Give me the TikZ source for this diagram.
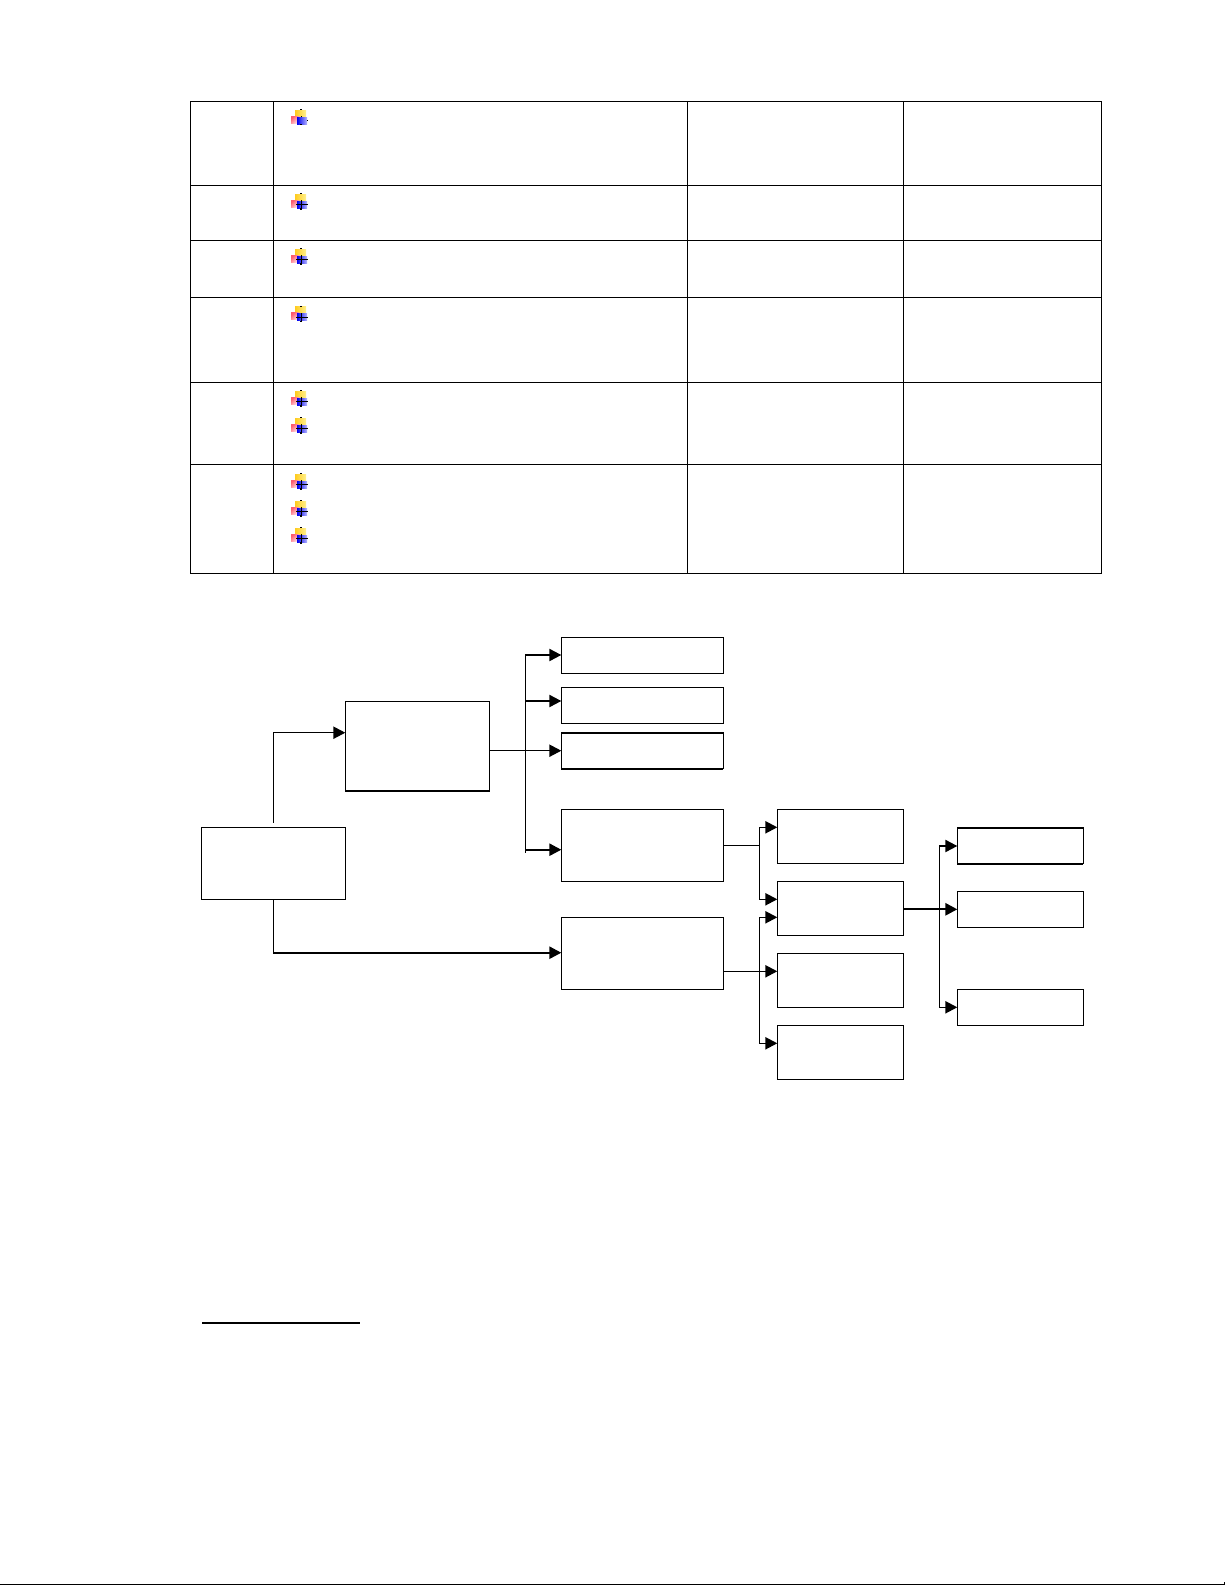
\documentclass[tikz,border=0pt]{standalone}
\usetikzlibrary{arrows.meta}
\definecolor{iconYa}{HTML}{FFCB1E}
\definecolor{iconYb}{HTML}{FFF08C}
\definecolor{iconRa}{HTML}{FF5A6C}
\definecolor{iconRb}{HTML}{FFE4E8}
\definecolor{iconBa}{HTML}{0000F0}
\definecolor{iconBb}{HTML}{B4B4FF}
\tikzset{
  boxnode/.style={draw=black,line width=0.95pt,fill=white,inner sep=0pt,outer sep=0pt},
  rule/.style={line width=0.95pt,black},
  edge/.style={line width=0.95pt,black},
  heavy/.style={line width=1.6pt,black},
  arr/.style={line width=1.05pt,black,-{Triangle[length=9pt,width=9.2pt]}},
  arrmid/.style={line width=1.4pt,black,-{Triangle[length=9pt,width=9.2pt]}},
  arrheavy/.style={line width=1.6pt,black,-{Triangle[length=9pt,width=9.2pt]}},
  iconbase/.pic={
    \shade[left color=iconYa,right color=iconYb] (295,0) rectangle (306,7);
    \shade[top color=iconRa,bottom color=iconRb,shading angle=45] (291,6) rectangle (299,13);
    \shade[left color=iconBa,right color=iconBb] (297,7) rectangle (307,14);
    \fill[black] (300,-1) rectangle (302,0);
  },
  icon/.pic={
    \pic {iconbase};
    \fill[black] (300.5,6) rectangle (301.5,7);
    \fill[black] (307,10) rectangle (308,11);
    \fill[black] (300,14) rectangle (302,15);
  },
  iconbar/.pic={
    \pic {iconbase};
    \fill[black] (300.5,6) rectangle (301.5,15);
    \fill[black] (295.5,10) rectangle (308,11);
    \fill[black] (300,14) rectangle (302,15.5);
  }
}
\newcommand{\bx}[5]{%
  \pgfmathsetmacro{\bxw}{(#4-#2)*0.75}%
  \pgfmathsetmacro{\bxh}{(#5-#3)*0.75}%
  \node[boxnode,minimum width=\bxw pt,minimum height=\bxh pt] (#1) at ({(#2+#4)/2},{(#3+#5)/2}) {};}
\begin{document}
\begin{tikzpicture}[x=0.75pt,y=-0.75pt]
\useasboundingbox (0,0) rectangle (1225,1585);
% table
\draw[rule] (190.5,101.3) rectangle (1101.7,573.3);
\foreach \yy in {185.3,240.3,297.3,382.3,464.3} \draw[rule] (190.5,\yy) -- (1101.7,\yy);
\foreach \xx in {273.3,687.3,903.3} \draw[rule] (\xx,101.3) -- (\xx,573.3);
% bullets
\pic at (0,110) {icon};
\foreach \yy in {194,249.3,306.7,391,418,474,501,528} \pic at (0,\yy) {iconbar};
% boxes
\bx{a}{201.3}{827.3}{345.7}{899.3}
\bx{b}{345.3}{701.3}{489.3}{791}
\bx{ca}{561.3}{637.3}{723.3}{673.3}
\bx{cb}{561.3}{687.3}{723.3}{723.3}
\bx{cc}{561.3}{733}{723.3}{768.7}
\bx{cd}{561.3}{809.3}{723.3}{881.3}
\bx{ce}{561.3}{917.3}{723.3}{989.3}
\bx{da}{777.3}{809.3}{903.3}{863.3}
\bx{db}{777.3}{881.3}{903.3}{935.3}
\bx{dc}{777.3}{953.3}{903.3}{1007.3}
\bx{dd}{777.3}{1025.3}{903.3}{1079.3}
\bx{ea}{957.3}{828}{1083.3}{863.7}
\bx{eb}{957.3}{891.3}{1083.3}{927.3}
\bx{ec}{957.3}{989.3}{1083.3}{1025.3}
% heavier edges
\draw[heavy] (b.south west) -- (b.south east);
\draw[heavy] (cc.north west) -- (cc.north east);
\draw[heavy] (cc.south west) -- (cc.south east);
\draw[heavy] (ea.north west) -- (ea.north east);
\draw[heavy] (ea.south west) -- (ea.south east);
% junction coordinates
\coordinate (astub) at (273.3,822.7);
\coordinate (abend) at (273.3,732.7);
\coordinate (aelbow) at (273.3,952.7);
\coordinate (tA1) at (525.3,655);
\coordinate (tA2) at (525.3,701);
\coordinate (tA3) at (525.3,750.7);
\coordinate (tA4) at (525.3,849.7);
\coordinate (tAend) at (525.3,853.3);
\coordinate (tB1) at (759.3,827.3);
\coordinate (tB2) at (759.3,845.3);
\coordinate (tB3) at (759.3,899.3);
\coordinate (tC1) at (759.3,917.3);
\coordinate (tC2) at (759.3,971.3);
\coordinate (tC3) at (759.3,1043.3);
\coordinate (tD1) at (939.3,846);
\coordinate (tD2) at (939.3,909.3);
\coordinate (tD3) at (939.3,1007.3);
\coordinate (pageend) at (1224.5,1584.3);
% connectors
\draw[edge] (astub) -- (abend);
\draw[arr] (abend) -- (abend -| b.west);
\draw[edge] (a.south -| aelbow) -- (aelbow);
\draw[arrmid] (aelbow) -- (aelbow -| ce.west);
\draw[edge] (tA3 -| b.east) -- (tA3);
\draw[edge] (tA1) -- (tAend);
\draw[arr] (tA1) -- (tA1 -| ca.west);
\draw[arr] (tA2) -- (tA2 -| cb.west);
\draw[arr] (tA3) -- (tA3 -| cc.west);
\draw[arrmid] (tA4) -- (tA4 -| cd.west);
\draw[edge] (tB2 -| cd.east) -- (tB2);
\draw[edge] (tB1) -- (tB3);
\draw[arr] (tB1) -- (tB1 -| da.west);
\draw[arr] (tB3) -- (tB3 -| db.west);
\draw[arr] (tC2 -| ce.east) -- (tC2 -| dc.west);
\draw[edge] (tC1) -- (tC3);
\draw[arr] (tC1) -- (tC1 -| db.west);
\draw[arr] (tC3) -- (tC3 -| dd.west);
\draw[arrheavy] (tD2 -| db.east) -- (tD2 -| eb.west);
\draw[edge] (tD1) -- (tD3);
\draw[arr] (tD1) -- (tD1 -| ea.west);
\draw[arr] (tD3) -- (tD3 -| ec.west);
% footnote rule and page rule
\draw[line width=1.5pt,black] (202.3,1322.7) -- (360,1322.7);
\draw[rule] (0,1584.3) -- (1225,1584.3);
\draw[rule] (pageend) -- ++(0,-2);
\end{tikzpicture}
\end{document}
